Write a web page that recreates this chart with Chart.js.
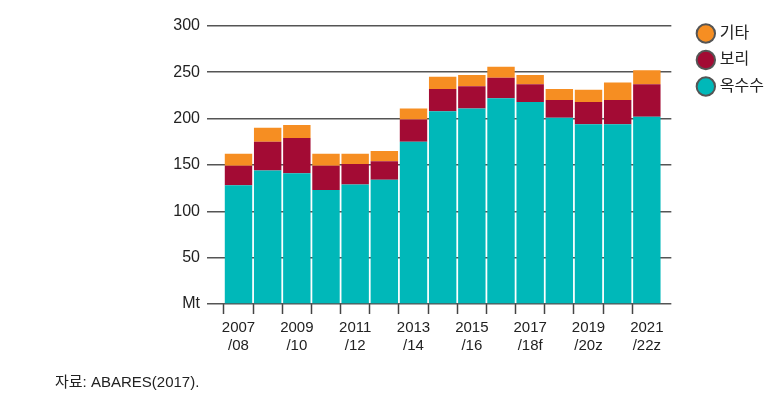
<!DOCTYPE html>
<html lang="ko">
  <head>
    <meta charset="UTF-8" />
    <title>호주 사료곡물 생산</title>
    <script src="https://cdn.jsdelivr.net/npm/chart.js"></script>
    <style>
      body { margin: 0; background: #fff; }
      #wrap { position: relative; width: 782px; height: 400px; }
      #source {
        position: absolute; left: 55px; top: 370px;
        font: 15px "Liberation Sans", "Noto Sans CJK KR", sans-serif; color: #222;
      }
    </style>
  </head>
  <body>
    <div id="wrap">
      <canvas id="grainChart" width="782" height="400"></canvas>
      <div id="source">자료: ABARES(2017).</div>
    </div>

    <script>
      // 15 seasons, only every second one gets a label
      const categories = [
        "2007/08", "2008/09", "2009/10", "2010/11", "2011/12", "2012/13", "2013/14", "2014/15",
        "2015/16", "2016/17", "2017/18f", "2018/19z", "2019/20z", "2020/21z", "2021/22z"
      ];
      const cornValues   = [128, 144, 141, 123, 129, 134, 175, 208, 211, 222, 218, 201, 194, 194, 202];
      const barleyValues = [21, 31, 38, 26, 22, 20, 24, 24, 24, 22, 19, 19, 24, 26, 35];
      const otherValues  = [13, 15, 14, 13, 11, 11, 12, 13, 12, 12, 10, 12, 13, 19, 15];
      const yTicks = [0, 50, 100, 150, 200, 250, 300];

      const fontFamily = '"Liberation Sans", "Noto Sans CJK KR", sans-serif';

      new Chart(document.getElementById("grainChart"), {
        type: "bar",
        data: {
          labels: categories.map((c, i) => i),
          datasets: [
            { label: "옥수수", data: cornValues, backgroundColor: "#00B8B9" },
            { label: "보리", data: barleyValues, backgroundColor: "#A30B34" },
            { label: "기타", data: otherValues, backgroundColor: "#F68E22" },
          ],
        },
        options: {
          responsive: false,
          animation: false,
          layout: { padding: { top: 15, right: 8, bottom: 0, left: 0 } },
          datasets: { bar: { barPercentage: 0.94, categoryPercentage: 1, borderWidth: 0 } },
          plugins: {
            tooltip: { enabled: false },
            legend: {
              position: "right",
              align: "start",
              reverse: true,
              labels: {
                usePointStyle: true,
                pointStyle: "circle",
                boxWidth: 12,
                boxHeight: 13,
                padding: 10.5,
                color: "#222",
                font: { size: 16, family: fontFamily },
                generateLabels: (chart) =>
                  Chart.defaults.plugins.legend.labels.generateLabels(chart).map((l) => ({
                    ...l, strokeStyle: "#555", lineWidth: 2,
                  })),
              },
            },
          },
          scales: {
            x: {
              type: "linear",
              stacked: true,
              offset: false,
              min: -1.08,
              max: 14.84,
              afterFit: (s) => { s.height = 96; },
              border: { display: false },
              grid: {
                drawOnChartArea: false,
                tickLength: 10,
                tickWidth: 1.5,
                tickColor: (ctx) => (ctx.tick && ctx.tick.value >= 0 ? "#444" : "rgba(0,0,0,0)"),
              },
              ticks: {
                stepSize: 1,
                includeBounds: false,
                autoSkip: false,
                maxRotation: 0,
                padding: 5,
                color: "#222",
                font: { size: 15, family: fontFamily },
                callback: (v) => {
                  const label = categories[v];
                  if (!label || v % 2 !== 0) return "";
                  const [a, b] = label.split("/");
                  return [a, "/" + b];
                },
              },
            },
            y: {
              stacked: true,
              min: 0,
              max: 310,
              afterFit: (s) => { s.width = 207; },
              border: { display: false },
              grid: { color: "#555", lineWidth: 1.5, drawTicks: false },
              afterBuildTicks: (s) => { s.ticks = yTicks.map((v) => ({ value: v })); },
              ticks: {
                padding: 7,
                color: "#222",
                font: { size: 16, family: fontFamily },
                callback: (v) => (v === 0 ? "Mt" : v),
              },
            },
            gap: {
              type: "linear",
              position: "right",
              afterFit: (s) => { s.width = 18; },
              border: { display: false },
              grid: { display: false },
              ticks: { display: false },
            },
          },
        },
      });
    </script>
  </body>
</html>
